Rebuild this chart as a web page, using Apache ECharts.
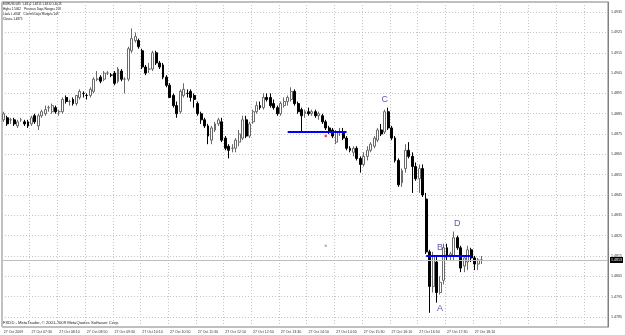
<!DOCTYPE html>
<html>
<head>
<meta charset="utf-8">
<script src="https://cdn.jsdelivr.net/npm/echarts@6/dist/echarts.min.js"></script>
<style>
html,body{margin:0;padding:0;background:#fff;}
#chart{width:625px;height:335px;}
</style>
</head>
<body>
<div id="chart"></div>
<script>
// ---- data (EURUSD M5, 27 Oct 2009) ----
const tickLabels = ["27 Oct 2009","27 Oct 07:30","27 Oct 08:10","27 Oct 08:50","27 Oct 09:30","27 Oct 10:10",
  "27 Oct 10:50","27 Oct 11:30","27 Oct 12:10","27 Oct 12:50","27 Oct 13:30","27 Oct 14:10","27 Oct 14:50",
  "27 Oct 15:30","27 Oct 16:10","27 Oct 16:50","27 Oct 17:30","27 Oct 18:10"];
const priceTicks = [1.4785,1.4795,1.4805,1.4815,1.4825,1.4835,1.4845,1.4855,1.4865,1.4875,1.4885,1.4895,1.4905,1.4915,1.4925,1.4935];

const openPrices = [
1.4882,1.4883,1.4882,1.4882,1.4879,1.4882,1.4881,1.4881,1.4880,1.4884,
1.4879,1.4884,1.4885,1.4888,1.4886,1.4888,1.4886,1.4886,1.4893,1.4891,
1.4892,1.4890,1.4893,1.4895,1.4894,1.4894,1.4896,1.4902,1.4903,1.4902,
1.4905,1.4904,1.4905,1.4901,1.4906,1.4902,1.4902,1.4916,1.4921,1.4921,
1.4916,1.4908,1.4907,1.4907,1.4915,1.4910,1.4909,1.4903,1.4899,1.4894,
1.4889,1.4886,1.4894,1.4895,1.4896,1.4894,1.4890,1.4885,1.4882,1.4879,
1.4872,1.4877,1.4880,1.4881,1.4873,1.4869,1.4868,1.4868,1.4871,1.4873,
1.4882,1.4874,1.4881,1.4886,1.4889,1.4888,1.4893,1.4893,1.4890,1.4888,
1.4885,1.4889,1.4891,1.4892,1.4896,1.4890,1.4887,1.4885,1.4886,1.4885,
1.4886,1.4884,1.4884,1.4881,1.4878,1.4877,1.4871,1.4876,1.4876,1.4873,
1.4868,1.4866,1.4868,1.4863,1.4860,1.4864,1.4867,1.4869,1.4872,1.4877,
1.4876,1.4886,1.4878,1.4873,1.4862,1.4851,1.4858,1.4867,1.4864,1.4859,
1.4853,1.4858,1.4843,1.4817,1.4800,1.4812,1.4797,1.4803,1.4819,1.4815,
1.4815,1.4824,1.4819,1.4810,1.4812,1.4818,1.4814,1.4811,1.4813];
const highPrices = [
1.4886,1.4884,1.4883,1.4883,1.4882,1.4883,1.4882,1.4882,1.4884,1.4885,
1.4885,1.4887,1.4889,1.4889,1.4890,1.4889,1.4887,1.4893,1.4894,1.4892,
1.4893,1.4894,1.4897,1.4896,1.4895,1.4898,1.4903,1.4906,1.4904,1.4906,
1.4906,1.4905,1.4906,1.4908,1.4907,1.4903,1.4918,1.4927,1.4925,1.4922,
1.4917,1.4909,1.4910,1.4916,1.4916,1.4911,1.4910,1.4904,1.4900,1.4895,
1.4891,1.4897,1.4900,1.4897,1.4897,1.4895,1.4891,1.4886,1.4883,1.4880,
1.4879,1.4881,1.4883,1.4883,1.4874,1.4870,1.4870,1.4873,1.4877,1.4884,
1.4884,1.4881,1.4887,1.4891,1.4891,1.4895,1.4895,1.4895,1.4892,1.4889,
1.4891,1.4893,1.4894,1.4898,1.4897,1.4891,1.4888,1.4887,1.4888,1.4887,
1.4887,1.4886,1.4885,1.4882,1.4879,1.4878,1.4877,1.4878,1.4878,1.4874,
1.4869,1.4869,1.4869,1.4864,1.4866,1.4869,1.4871,1.4874,1.4878,1.4880,
1.4887,1.4888,1.4879,1.4874,1.4863,1.4858,1.4870,1.4871,1.4866,1.4861,
1.4860,1.4860,1.4846,1.4818,1.4817,1.4815,1.4805,1.4821,1.4821,1.4817,
1.4827,1.4825,1.4820,1.4815,1.4820,1.4819,1.4815,1.4814,1.4815];
const lowPrices = [
1.4881,1.4879,1.4880,1.4879,1.4878,1.4881,1.4879,1.4878,1.4879,1.4880,
1.4877,1.4883,1.4884,1.4886,1.4885,1.4885,1.4884,1.4885,1.4890,1.4889,
1.4889,1.4889,1.4892,1.4893,1.4892,1.4893,1.4895,1.4901,1.4900,1.4901,
1.4904,1.4903,1.4899,1.4900,1.4901,1.4895,1.4901,1.4915,1.4920,1.4917,
1.4907,1.4904,1.4905,1.4906,1.4909,1.4907,1.4902,1.4898,1.4893,1.4888,
1.4883,1.4885,1.4893,1.4893,1.4891,1.4888,1.4884,1.4880,1.4878,1.4870,
1.4870,1.4876,1.4879,1.4871,1.4867,1.4863,1.4866,1.4866,1.4869,1.4872,
1.4873,1.4873,1.4880,1.4885,1.4887,1.4887,1.4891,1.4888,1.4887,1.4884,
1.4884,1.4888,1.4889,1.4891,1.4889,1.4885,1.4876,1.4883,1.4884,1.4884,
1.4883,1.4882,1.4880,1.4877,1.4875,1.4873,1.4870,1.4874,1.4872,1.4867,
1.4866,1.4864,1.4862,1.4856,1.4859,1.4862,1.4866,1.4868,1.4871,1.4874,
1.4875,1.4877,1.4872,1.4861,1.4849,1.4849,1.4856,1.4863,1.4846,1.4852,
1.4846,1.4844,1.4816,1.4787,1.4797,1.4792,1.4796,1.4801,1.4813,1.4813,
1.4813,1.4818,1.4807,1.4807,1.4808,1.4812,1.4808,1.4808,1.4811];
const closePrices = [
1.4885,1.4880,1.4882,1.4880,1.4881,1.4882,1.4880,1.4879,1.4883,1.4881,
1.4884,1.4886,1.4887,1.4888,1.4889,1.4886,1.4886,1.4892,1.4891,1.4891,
1.4890,1.4894,1.4896,1.4895,1.4894,1.4897,1.4902,1.4902,1.4901,1.4905,
1.4905,1.4904,1.4900,1.4907,1.4902,1.4902,1.4917,1.4922,1.4923,1.4918,
1.4908,1.4905,1.4907,1.4915,1.4910,1.4908,1.4903,1.4899,1.4893,1.4889,
1.4885,1.4896,1.4897,1.4895,1.4893,1.4892,1.4885,1.4882,1.4879,1.4874,
1.4878,1.4880,1.4882,1.4872,1.4868,1.4867,1.4868,1.4872,1.4875,1.4882,
1.4874,1.4880,1.4886,1.4889,1.4888,1.4893,1.4892,1.4889,1.4888,1.4885,
1.4890,1.4891,1.4893,1.4896,1.4890,1.4886,1.4884,1.4886,1.4885,1.4886,
1.4884,1.4885,1.4881,1.4878,1.4876,1.4874,1.4876,1.4876,1.4873,1.4868,
1.4867,1.4868,1.4863,1.4860,1.4864,1.4867,1.4870,1.4873,1.4877,1.4875,
1.4886,1.4878,1.4873,1.4862,1.4850,1.4857,1.4867,1.4864,1.4859,1.4853,
1.4858,1.4845,1.4817,1.4800,1.4815,1.4797,1.4802,1.4819,1.4815,1.4816,
1.4824,1.4819,1.4809,1.4814,1.4818,1.4814,1.4811,1.4813,1.4813];

const bidPrice = 1.4813;
const levelLines = [ {from: 82, to: 99, price: 1.4876}, {from: 122, to: 135, price: 1.4815} ];
const letterMarks = [ {name: 'C', bar: 110, price: 1.4892}, {name: 'D', bar: 131, price: 1.4831},
                      {name: 'B', bar: 126, price: 1.4819}, {name: 'A', bar: 126, price: 1.4789} ];
const infoLines = ["EURUSD,M5  1.4812 1.4815 1.4810 1.4813",
                   "High= 1.5062    Previous Days Range= 218",
                   "Low= 1.4844    Current Days Range= 148",
                   "Close= 1.4875"];
const copyright = "FXDD - MetaTrader, \u00a9 2001-2009 MetaQuotes Software Corp.";

// ---- build ----
const barCount = openPrices.length;
const slotCount = 175;
const slots = [];
for (let i = 0; i < slotCount; i++) slots.push(String(i));
const candles = openPrices.map((o, i) => [o, closePrices[i], lowPrices[i], highPrices[i]]);

const FONT = 'Liberation Sans';
const chart = echarts.init(document.getElementById('chart'), null, {renderer: 'canvas'});
chart.setOption({
  animation: false,
  backgroundColor: '#ffffff',
  textStyle: {fontFamily: FONT},
  grid: {left: 2, right: 17, top: 2, bottom: 8, show: true, borderColor: '#808080', borderWidth: 1},
  xAxis: {
    type: 'category', data: slots, boundaryGap: true,
    axisLine: {show: false}, axisTick: {show: false},
    axisLabel: {
      interval: (i) => i % 8 === 0 && i < barCount,
      formatter: (v, i) => tickLabels[Math.round(i / 8)] || '',
      fontSize: 3.6, color: '#333', align: 'left', margin: 3, fontFamily: FONT
    },
    splitLine: {show: true, interval: (i) => i % 8 === 0,
      lineStyle: {type: [1, 2], color: '#c4c4c4', width: 1}}
  },
  yAxis: {
    type: 'value', position: 'right', min: 1.4780, max: 1.4940, interval: 0.0005, scale: true,
    axisLine: {show: true, lineStyle: {color: '#808080'}},
    axisTick: {show: false},
    splitLine: {show: false},
    axisLabel: {
      fontSize: 3.6, color: '#333', margin: 3, fontFamily: FONT,
      formatter: (v) => (Math.round(v * 10000) % 10 === 5) ? v.toFixed(4) : ''
    }
  },
  graphic: [
    {type: 'text', left: 3, top: 2, silent: true,
     style: {text: infoLines.join('\n'), font: '3px "Liberation Sans"', lineHeight: 5, fill: '#111'}},
    {type: 'text', left: 3, top: 321, silent: true,
     style: {text: copyright, font: '4.2px "Liberation Sans"', fill: '#222'}}
  ],
  series: [
    {
      name: 'grid', type: 'line', data: [], z: 1, silent: true,
      markLine: {
        silent: true, symbol: 'none', z: 1, animation: false, precision: 4,
        label: {show: false},
        lineStyle: {type: [1, 2], color: '#c4c4c4', width: 1},
        data: priceTicks.map(p => ({yAxis: p}))
      }
    },
    {
      name: 'EURUSD', type: 'candlestick', data: candles, barWidth: 2.4, z: 3,
      itemStyle: {color: '#ffffff', color0: '#000000', borderColor: '#6a6a6a', borderColor0: '#000000', borderWidth: 1},
      markLine: {
        silent: true, symbol: 'none', animation: false, z: 4, precision: 4,
        data: [
          {yAxis: bidPrice, lineStyle: {color: '#c0c0c0', type: 'solid', width: 1},
           label: {show: true, position: 'end', formatter: bidPrice.toFixed(4), fontSize: 3.6,
                   color: '#fff', backgroundColor: '#000', padding: [1, 1], distance: 2, fontFamily: FONT}}
        ].concat(levelLines.map(l => [
          {coord: [l.from, l.price], lineStyle: {color: '#0000ff', width: 2, type: 'solid'}, label: {show: false}},
          {coord: [l.to, l.price]}
        ]))
      }
    },
    {
      name: 'letters', type: 'scatter', symbolSize: 1, z: 6, silent: true,
      itemStyle: {color: 'rgba(0,0,0,0)'},
      data: letterMarks.map(m => ({name: m.name, value: [m.bar, m.price]})),
      label: {show: true, position: 'inside', formatter: (p) => p.name, fontSize: 9, color: '#3030a0', fontFamily: FONT}
    },
    {
      name: 'dots', type: 'scatter', symbolSize: 2.5, z: 6, silent: true,
      data: [{value: [93, 1.4874], itemStyle: {color: '#ff0000'}}, {value: [93, 1.4820], itemStyle: {color: '#a0a0a0'}}]
    }
  ]
});
</script>
</body>
</html>
